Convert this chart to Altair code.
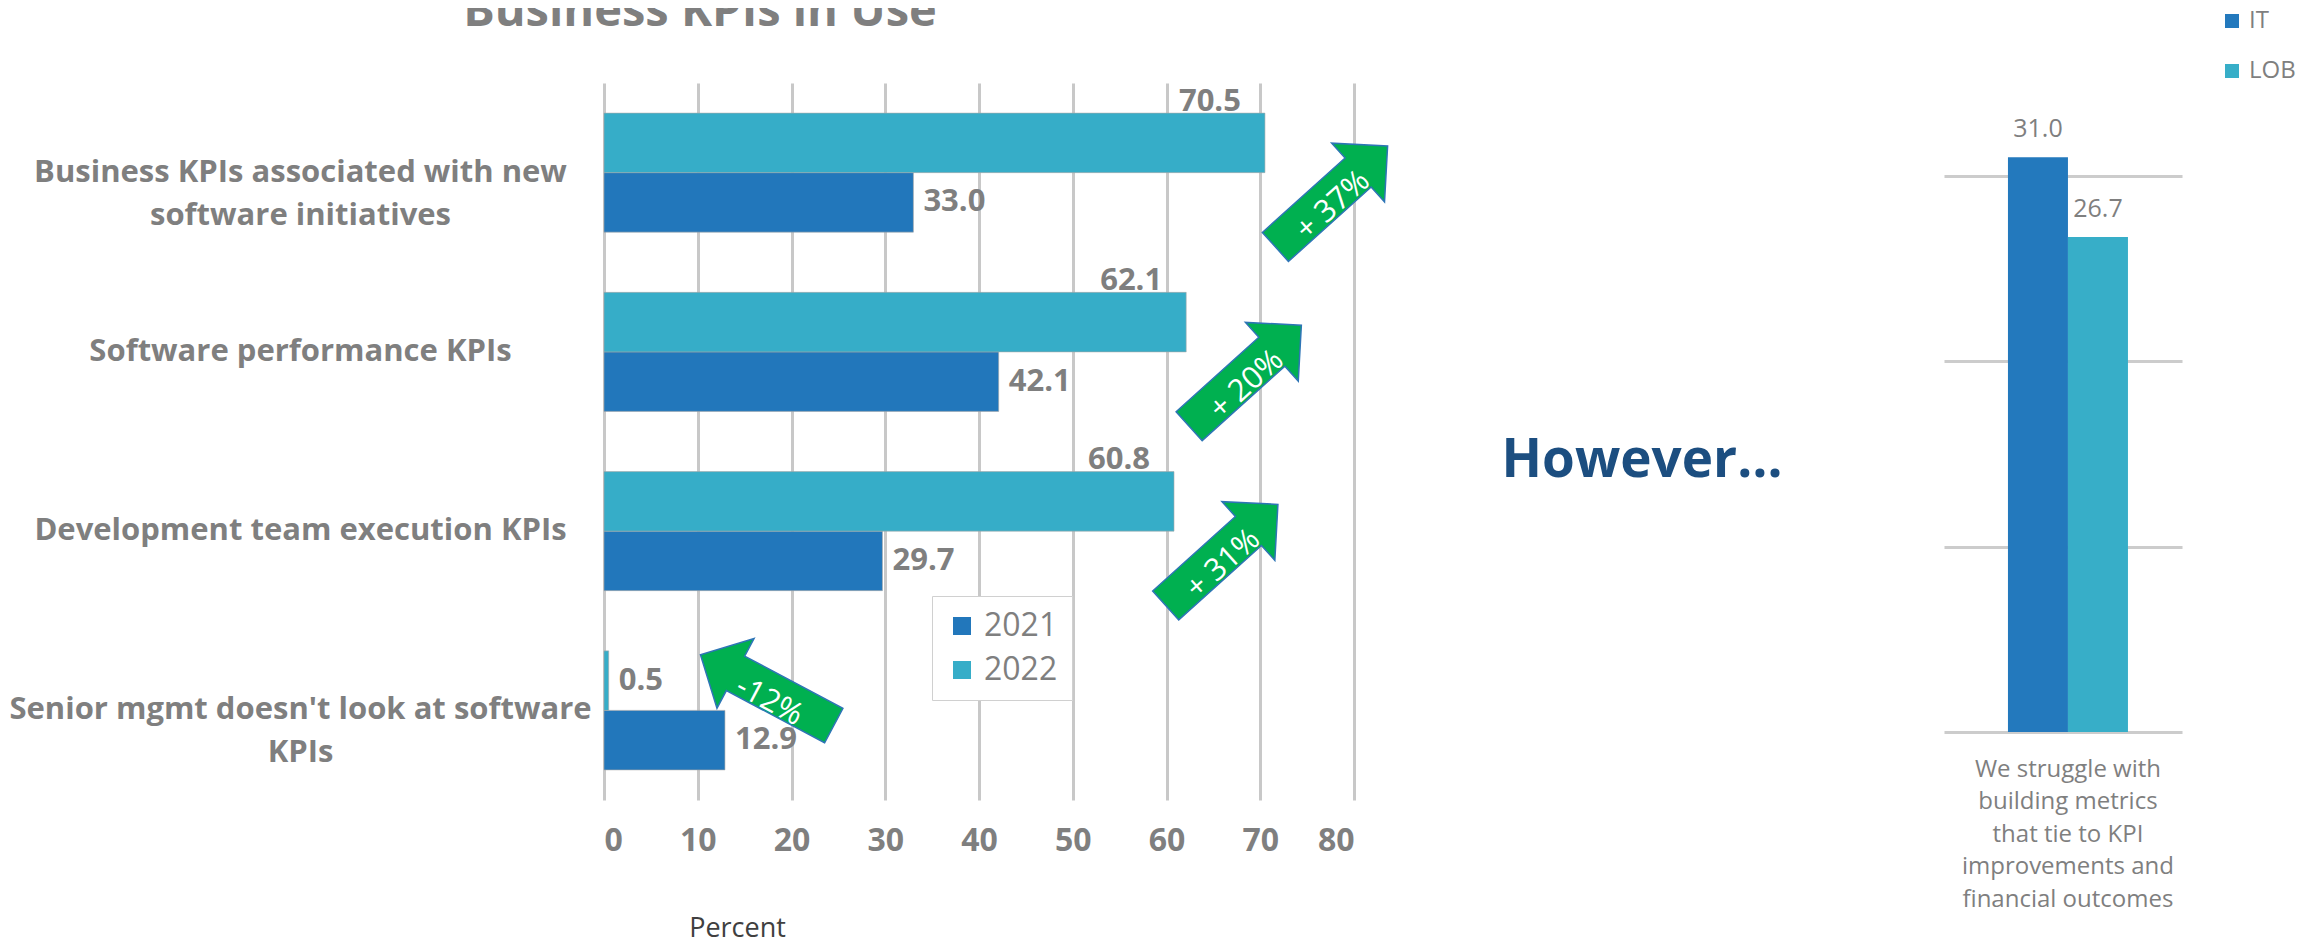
import altair as alt
import pandas as pd

# ---------------- data ----------------
title_text = "Business KPIs in Use"
kpi_categories = [
    "Business KPIs associated with new\nsoftware initiatives",
    "Software performance KPIs",
    "Development team execution KPIs",
    "Senior mgmt doesn't look at software\nKPIs",
]
years = ["2021", "2022"]
values_2021 = [33.0, 42.1, 29.7, 12.9]
values_2022 = [70.5, 62.1, 60.8, 0.5]
x_ticks = [0, 10, 20, 30, 40, 50, 60, 70, 80]

change_labels = ["+ 37%", "+ 20%", "+ 31%", "-12%"]
change_sign = [1, 1, 1, -1]
change_at = [77.6, 68.4, 65.9, 17.4]   # where each change arrow sits on the percent axis

note_text = ["However\u2026"]

statement = ["We struggle with\nbuilding metrics\nthat tie to KPI\nimprovements and\nfinancial outcomes"]
groups = ["IT", "LOB"]
group_values = [31.0, 26.7]
right_ticks = [0, 10, 20, 30]

# ---------------- tables ----------------
left_df = pd.DataFrame({
    "category": kpi_categories * 2,
    "year": ["2021"] * len(kpi_categories) + ["2022"] * len(kpi_categories),
    "value": values_2021 + values_2022,
})
arrow_df = pd.DataFrame({
    "category": kpi_categories,
    "value": change_at,
    "label": change_labels,
    "sign": change_sign,
})
right_df = pd.DataFrame({
    "statement": statement * len(groups),
    "group": groups,
    "value": group_values,
})

# ---------------- styles ----------------
FONT = "Open Sans"
GREY = "#7f7f7f"
BLUE = "#2277bb"
CYAN = "#36adc8"
GREEN = "#00b050"
EDGE = "#2e75b6"
ARROW = "M-1,-0.258L0.474,-0.258L0.474,-0.523L1,0L0.474,0.523L0.474,0.258L-1,0.258Z"

y_axis = alt.Axis(title=None, labelExpr="split(datum.label, '\\n')", labelAlign="center",
                  labelBaseline="middle", labelPadding=304, labelFont=FONT, labelFontSize=31,
                  labelFontWeight="bold", labelColor=GREY, labelLineHeight=43, labelLimit=0,
                  ticks=False, tickSize=0, domain=False, grid=False)
y_scale = alt.Scale(paddingInner=0.336, paddingOuter=0.168)
y_enc = alt.Y("category:N", sort=kpi_categories, scale=y_scale, axis=y_axis)
yoff = alt.YOffset("year:N", sort=["2022", "2021"], scale=alt.Scale(paddingInner=0, paddingOuter=0))
x_enc = alt.X("value:Q", stack=None, scale=alt.Scale(domain=[0, 80], nice=False),
              axis=alt.Axis(values=x_ticks, grid=True, gridColor="#c8c8c8", gridWidth=3,
                            ticks=False, tickSize=0, domain=False, labelFont=FONT, labelFontSize=32,
                            labelFontWeight="bold", labelColor=GREY, labelPadding=25,
                            title="Percent", titleFont=FONT, titleFontSize=27, titleFontWeight="normal",
                            titleColor="#404040", titleX=133, titleY=128, titleAlign="center",
                            titleBaseline="middle"))
color_enc = alt.Color("year:N", scale=alt.Scale(domain=years, range=[BLUE, CYAN]),
                      legend=alt.Legend(title=None, orient="none", legendX=328, legendY=513,
                                        symbolType="square", symbolSize=324, symbolStrokeWidth=0,
                                        labelFont=FONT, labelFontSize=32, labelColor=GREY, padding=14,
                                        strokeColor="#d0d0d0", fillColor="white", rowPadding=12,
                                        labelOffset=6))

bars = alt.Chart(left_df).mark_bar(stroke="#a6a6a6", strokeWidth=1, strokeOpacity=0.6).encode(
    y=y_enc, yOffset=yoff, x=x_enc, color=color_enc)

lbl_side = alt.Chart(left_df).transform_filter(
    "datum.year == '2021' || datum.value < 10"
).mark_text(align="left", baseline="middle", dx=10, font=FONT, fontSize=31,
            fontWeight="bold", color=GREY).encode(
    y=y_enc, yOffset=yoff, x=x_enc, text=alt.Text("value:Q", format=".1f"))

lbl_top = alt.Chart(left_df).transform_filter(
    "datum.year == '2022' && datum.value >= 10"
).mark_text(align="right", baseline="middle", dx=-24, dy=-41, font=FONT, fontSize=31,
            fontWeight="bold", color=GREY).encode(
    y=y_enc, yOffset=yoff, x=x_enc, text=alt.Text("value:Q", format=".1f"))

up = alt.Chart(arrow_df).transform_filter("datum.sign > 0")
down = alt.Chart(arrow_df).transform_filter("datum.sign < 0")
y_up = alt.Y("category:N", sort=kpi_categories, scale=y_scale, axis=y_axis, bandPosition=0.70)
y_down = alt.Y("category:N", sort=kpi_categories, scale=y_scale, axis=y_axis, bandPosition=0.33)

arrows_up = up.mark_point(shape=ARROW, filled=True, fill=GREEN, stroke=EDGE, strokeWidth=1.5,
                          size=22801, angle=318, opacity=1).encode(y=y_up, x=x_enc)
arrows_up_txt = up.mark_text(angle=318, color="white", font=FONT, fontSize=31, dx=-5, dy=8,
                             align="center", baseline="middle").encode(y=y_up, x=x_enc, text="label:N")
arrows_dn = down.mark_point(shape=ARROW, filled=True, fill=GREEN, stroke=EDGE, strokeWidth=1.5,
                            size=22801, angle=208, opacity=1).encode(y=y_down, x=x_enc)
arrows_dn_txt = down.mark_text(angle=28, color="white", font=FONT, fontSize=31, dx=7, dy=9,
                               align="center", baseline="middle").encode(y=y_down, x=x_enc, text="label:N")

left = alt.layer(bars, lbl_side, lbl_top, arrows_up, arrows_up_txt, arrows_dn, arrows_dn_txt).properties(
    width=750, height=717,
    title=alt.TitleParams(title_text, font=FONT, fontSize=47, fontWeight="bold", color=GREY,
                          anchor="middle", frame="group", dx=-279, baseline="alphabetic", offset=10))

note = alt.Chart(pd.DataFrame({"note": note_text})).mark_text(
    font=FONT, fontSize=53, fontWeight="bold", color="#1c4e80", align="center", baseline="alphabetic"
).encode(text="note:N", x=alt.value(268), y=alt.value(394)).properties(width=550, height=717)

rx = alt.X("statement:N", scale=alt.Scale(paddingInner=0, paddingOuter=0.4917, align=0.542),
           axis=alt.Axis(title=None, labelExpr="split(datum.label, '\\n')", labelAngle=0,
                         labelAlign="center", labelBaseline="top", labelPadding=25, labelFont=FONT,
                         labelFontSize=24, labelColor=GREY, labelLineHeight=32.5, labelLimit=0,
                         ticks=False, tickSize=0, domain=False, grid=False))
rxo = alt.XOffset("group:N", sort=groups, scale=alt.Scale(paddingInner=0, paddingOuter=0))
ry = alt.Y("value:Q", stack=None, scale=alt.Scale(domain=[0, 35], nice=False),
           axis=alt.Axis(values=right_ticks, grid=True, gridColor="#cccccc", gridWidth=3, labels=False,
                         ticks=False, tickSize=0, domain=False, title=None))
rcolor = alt.Color("group:N", scale=alt.Scale(domain=groups, range=["#2379bd", "#37aec8"]),
                   legend=alt.Legend(title=None, orient="none", legendX=276, legendY=-74,
                                     symbolType="square", symbolSize=196, symbolStrokeWidth=0,
                                     labelFont=FONT, labelFontSize=24, labelColor=GREY, padding=0,
                                     rowPadding=26, labelOffset=5))
rbars = alt.Chart(right_df).mark_bar().encode(x=rx, xOffset=rxo, y=ry, color=rcolor)
rtext = alt.Chart(right_df).mark_text(dy=-28, baseline="middle", font=FONT, fontSize=25, color=GREY).encode(
    x=rx, xOffset=rxo, y=ry, text=alt.Text("value:Q", format=".1f"))
right = alt.layer(rbars, rtext).properties(width=238, height=649)

chart = alt.hconcat(left, note, right, spacing=20, bounds="flush").resolve_scale(
    x="independent", y="independent", color="independent"
).properties(
    padding={"left": 0, "top": -20, "right": 0, "bottom": 8}
).configure(font=FONT).configure_view(stroke="transparent", strokeWidth=0)

chart.save("out.html", embed_options={"renderer": "svg", "actions": False})
